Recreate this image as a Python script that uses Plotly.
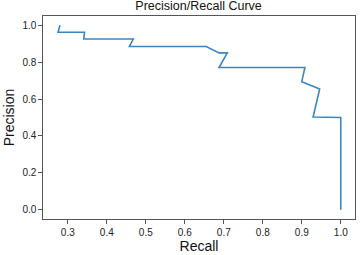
import plotly.graph_objects as go

recall = [0.280, 0.275, 0.343, 0.341, 0.468, 0.458, 0.655, 0.688, 0.709, 0.688,
          0.908, 0.900, 0.946, 0.929, 1.0, 1.0]
precision = [1.0, 0.962, 0.962, 0.925, 0.925, 0.885, 0.885, 0.85, 0.85, 0.771,
             0.771, 0.694, 0.655, 0.503, 0.5, 0.0]
x_ticks = [0.3, 0.4, 0.5, 0.6, 0.7, 0.8, 0.9, 1.0]
y_ticks = [0.0, 0.2, 0.4, 0.6, 0.8, 1.0]

font = "Liberation Sans, Arial, sans-serif"
axcol = "#555555"

fig = go.Figure(go.Scatter(x=recall, y=precision, mode="lines",
                           line=dict(color="#3a86c4", width=1.6)))

fig.update_layout(
    width=361, height=255,
    margin=dict(l=43, r=5, t=16, b=33),
    paper_bgcolor="white", plot_bgcolor="white",
    showlegend=False,
    font=dict(family=font, color="#222222", size=10),
    title=dict(text="Precision/Recall Curve", x=0.55, xanchor="center",
               y=0.995, yanchor="top", font=dict(size=12.5, color="#111111")),
)
fig.update_xaxes(range=[0.2365, 1.0365], tickvals=x_ticks, tickformat=".1f",
                 showgrid=False, zeroline=False, showline=True, mirror=True,
                 linecolor=axcol, linewidth=1.2, ticks="outside", ticklen=3.5,
                 tickcolor=axcol,
                 title=dict(text="Recall", font=dict(size=14, color="#111111"), standoff=3))
fig.update_yaxes(range=[-0.05, 1.05], tickvals=y_ticks, tickformat=".1f",
                 showgrid=False, zeroline=False, showline=True, mirror=True,
                 linecolor=axcol, linewidth=1.2, ticks="outside", ticklen=3.5,
                 tickcolor=axcol,
                 title=dict(text="Precision", font=dict(size=14, color="#111111"), standoff=4))

fig.write_html("out.html", config={"displayModeBar": False},
               post_script="document.body.style.margin='0';document.body.style.overflow='hidden';")
